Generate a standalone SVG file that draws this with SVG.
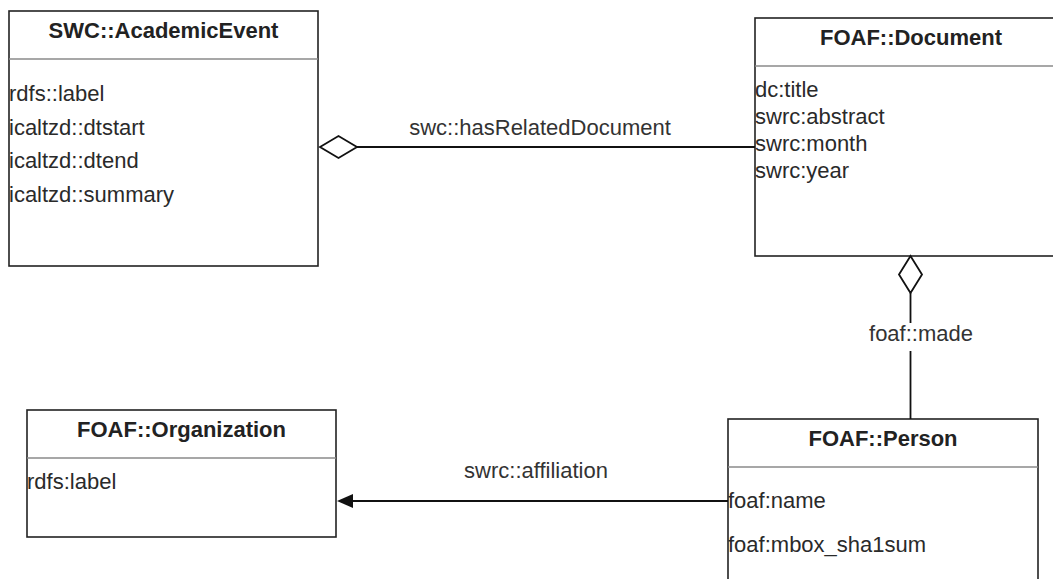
<svg xmlns="http://www.w3.org/2000/svg" width="1053" height="579" viewBox="0 0 1053 579">
<style>
.box{fill:#fff;stroke:#222;stroke-width:1.6}
.sep{stroke:#8a8a8a;stroke-width:1.5}
.title{font-family:"Liberation Sans",Arial,sans-serif;font-size:22px;font-weight:bold;fill:#222;text-anchor:middle}
.attr{font-family:"Liberation Sans",Arial,sans-serif;font-size:22px;fill:#2a2a2a}
.lbl{font-family:"Liberation Sans",Arial,sans-serif;font-size:22px;fill:#333;text-anchor:middle}
.edge{stroke:#111;stroke-width:1.8;fill:none}
.dia{fill:#fff;stroke:#111;stroke-width:1.8}
</style>
<rect width="1053" height="579" fill="#fff"/>
<g id="node-academic-event">
<rect class="box" x="9" y="11" width="309" height="255"/>
<line class="sep" x1="9" y1="59" x2="318" y2="59"/>
<text class="title" x="163.5" y="38">SWC::AcademicEvent</text>
<text class="attr" x="9" y="101">rdfs::label</text>
<text class="attr" x="9" y="135">icaltzd::dtstart</text>
<text class="attr" x="9" y="168">icaltzd::dtend</text>
<text class="attr" x="9" y="202">icaltzd::summary</text>
</g>
<g id="node-document">
<rect class="box" x="755" y="18" width="312" height="238"/>
<line class="sep" x1="755" y1="66" x2="1067" y2="66"/>
<text class="title" x="911" y="45">FOAF::Document</text>
<text class="attr" x="755" y="97">dc:title</text>
<text class="attr" x="755" y="124">swrc:abstract</text>
<text class="attr" x="755" y="151">swrc:month</text>
<text class="attr" x="755" y="178">swrc:year</text>
</g>
<g id="node-organization">
<rect class="box" x="27" y="410" width="309" height="127"/>
<line class="sep" x1="27" y1="458" x2="336" y2="458"/>
<text class="title" x="181.5" y="437">FOAF::Organization</text>
<text class="attr" x="27" y="489">rdfs:label</text>
</g>
<g id="node-person">
<rect class="box" x="728" y="419" width="310" height="180"/>
<line class="sep" x1="728" y1="467" x2="1038" y2="467"/>
<text class="title" x="883" y="446">FOAF::Person</text>
<text class="attr" x="728" y="508">foaf:name</text>
<text class="attr" x="728" y="552">foaf:mbox_sha1sum</text>
</g>
<g id="connectors">
<g id="edge-hasRelatedDocument">
<line class="edge" x1="357" y1="147" x2="755" y2="147"/>
<polygon class="dia" points="320,147 338.5,136 357,147 338.5,158"/>
<text class="lbl" x="540" y="135">swc::hasRelatedDocument</text>
</g>
<g id="edge-made">
<line class="edge" x1="910.5" y1="293" x2="910.5" y2="323"/>
<line class="edge" x1="910.5" y1="351" x2="910.5" y2="419"/>
<polygon class="dia" points="910.5,256 922,274.5 910.5,293 899,274.5"/>
<text class="lbl" x="921" y="341">foaf::made</text>
</g>
<g id="edge-affiliation">
<line class="edge" x1="728" y1="501" x2="352" y2="501"/>
<polygon points="337,501 353,494 353,508" fill="#111"/>
<text class="lbl" x="536" y="478">swrc::affiliation</text>
</g>
</g>
</svg>
